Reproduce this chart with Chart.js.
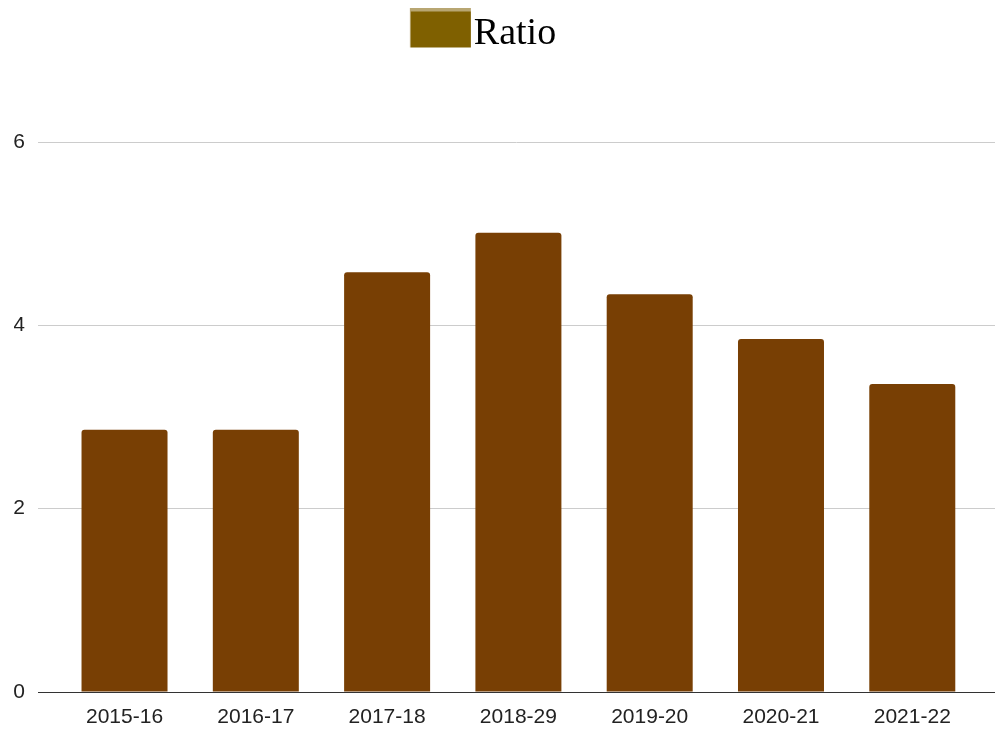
<!DOCTYPE html>
<html>
<head>
<meta charset="utf-8">
<script src="https://cdn.jsdelivr.net/npm/chart.js@4.4.1/dist/chart.umd.min.js"></script>
<style>
  body { margin: 0; background: #fff; }
</style>
</head>
<body>
<canvas id="chart" width="995" height="730"></canvas>
<script>
// Chart data
const categories = ['2015-16', '2016-17', '2017-18', '2018-29', '2019-20', '2020-21', '2021-22'];
const ratios = [2.86, 2.86, 4.58, 5.01, 4.34, 3.85, 3.36];
const yTicks = [0, 2, 4, 6];

const BAR_COLOR = '#783f04';
const TEXT_COLOR = '#222';
const AXIS_FONT = { family: "'Liberation Sans', Arial, sans-serif", size: 21 };

// Legend swatch: dark yellow box with a lighter strip on top
function makeSwatch() {
    const c = document.createElement('canvas');
    c.width = 92;
    c.height = 53;
    const ctx = c.getContext('2d');
    ctx.fillStyle = '#7f6000';
    ctx.fillRect(2, 0, 61, 40);
    ctx.fillStyle = '#b8a672';
    ctx.fillRect(2, 0, 61, 4);
    ctx.fillRect(2, 0, 1, 40);
    return c;
}

// Push the plot area down below the legend
const legendSpacer = {
    id: 'legendSpacer',
    beforeInit(chart) {
        const fit = chart.legend.fit;
        chart.legend.fit = function () {
            fit.bind(chart.legend)();
            this.height = 142;
        };
    }
};

new Chart(document.getElementById('chart').getContext('2d'), {
    type: 'bar',
    data: {
        datasets: [{
            label: 'Ratio',
            data: categories.map((c, i) => ({ x: i, y: ratios[i] })),
            backgroundColor: BAR_COLOR,
            borderRadius: 3,
            borderSkipped: 'start',
            categoryPercentage: 1,
            barPercentage: 0.655
        }]
    },
    options: {
        responsive: false,
        devicePixelRatio: 1,
        animation: false,
        layout: { padding: { left: 14, right: 0, top: 0, bottom: 0 } },
        plugins: {
            legend: {
                position: 'top',
                labels: {
                    usePointStyle: true,
                    pointStyle: makeSwatch(),
                    pointStyleWidth: 2,
                    padding: 15,
                    color: '#000',
                    font: { family: "'Liberation Serif', 'Times New Roman', serif", size: 38 }
                }
            },
            tooltip: { enabled: false }
        },
        scales: {
            x: {
                type: 'linear',
                offset: false,
                min: -0.659,
                max: 6.630,
                afterFit: axis => { axis.height = 38; },
                grid: { display: false, drawTicks: false },
                border: { display: true, color: '#333', width: 1 },
                ticks: {
                    stepSize: 1,
                    includeBounds: false,
                    autoSkip: false,
                    maxRotation: 0,
                    padding: 13,
                    color: TEXT_COLOR,
                    font: AXIS_FONT,
                    callback: value => categories[value] ?? ''
                }
            },
            y: {
                min: 0,
                max: 6,
                afterBuildTicks: axis => { axis.ticks = yTicks.map(v => ({ value: v })); },
                afterFit: axis => { axis.width = 24; },
                grid: { color: '#cccccc', lineWidth: 1, drawTicks: false },
                border: { display: false },
                ticks: {
                    padding: 13,
                    color: TEXT_COLOR,
                    font: AXIS_FONT
                }
            }
        }
    },
    plugins: [legendSpacer]
});
</script>
</body>
</html>
